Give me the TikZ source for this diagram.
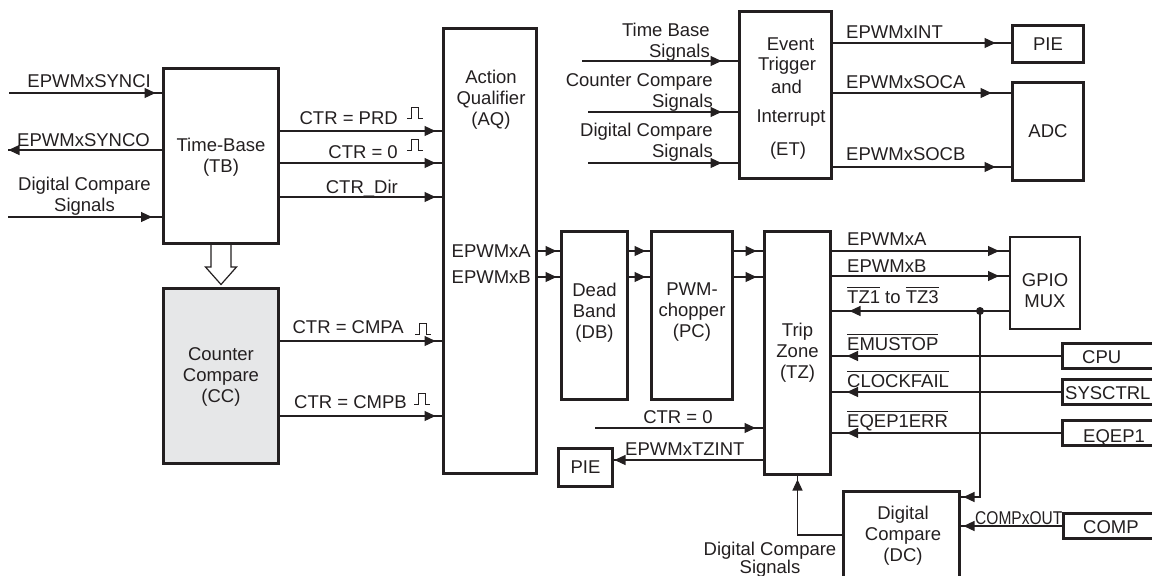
\documentclass[tikz,border=0pt]{standalone}
\usepackage{fontspec}
\setmainfont{Liberation Sans}
\usetikzlibrary{arrows.meta,decorations.markings,calc}
\definecolor{ink}{HTML}{231F20}
\definecolor{ccgray}{RGB}{230,231,232}
\newcommand\dfont{\fontsize{18.5}{21}\selectfont}
\newcommand\ovl[1]{\leavevmode\setbox0\hbox{#1}\rlap{\rule[15pt]{\wd0}{1pt}}\box0\relax}
\tikzset{
  box/.style={draw=ink, line width=3pt, inner sep=0pt, font=\dfont, text=ink},
  wire/.style={draw=ink, color=ink, line width=1.2pt},
  arr/.style={postaction={decorate}, decoration={markings, mark=at position -#1 with {\arrow{Triangle[length=11pt,width=10pt]}}}},
  arr/.default=1pt,
  lbl/.style={inner sep=0pt, font=\dfont, text=ink, align=center},
  pulse/.pic={\draw[ink, line width=0.9pt] (0,0) -- (4,0) -- (4,-11) -- (11,-11) -- (11,0) -- (16,0);},
}
\begin{document}
\begin{tikzpicture}[x=1pt,y=-1pt]
\useasboundingbox (0,0) rectangle (1152,576);
\clip (0,0) rectangle (1152,576);

% ---------- boxes ----------
\node[box, minimum width=115pt, minimum height=175pt] (tb) at (221,156) {};
\node[box, fill=ccgray, minimum width=115pt, minimum height=175pt] (cc) at (221,376) {};
\node[box, minimum width=93pt, minimum height=445pt] (aq) at (490,251) {};
\node[box, minimum width=92pt, minimum height=167pt] (et) at (785.5,95) {};
\node[box, minimum width=71pt, minimum height=37pt] (pie1) at (1048,44) {PIE};
\node[box, minimum width=71pt, minimum height=98pt] (adc) at (1048,131.5) {ADC};
\node[box, minimum width=66pt, minimum height=168pt] (db) at (594.5,315.5) {};
\node[box, minimum width=81pt, minimum height=168pt] (pc) at (692,315.5) {};
\node[box, minimum width=66pt, minimum height=243pt] (tz) at (797.5,353) {};
\node[box, line width=2pt, minimum width=70pt, minimum height=92pt] (gpio) at (1045,283) {};
\node[box, minimum width=107.5pt, minimum height=25pt] (cpu) at (1116.25,356) {};
\node[box, minimum width=107.5pt, minimum height=25pt] (sys) at (1116.25,392) {};
\node[box, minimum width=107.5pt, minimum height=25pt] (eqep) at (1116.25,433) {};
\node[box, minimum width=107.5pt, minimum height=25pt] (comp) at (1117.25,526) {};
\node[box, minimum width=54pt, minimum height=38pt] (pie2) at (585.5,467.5) {PIE};
\node[box, minimum width=116pt, minimum height=93.5pt] (dc) at (901.5,538.25) {};

% ---------- box texts ----------
\node[lbl, anchor=north] (tbt) at (221,138) {Time-Base\\(TB)};
\node[lbl, anchor=north] (cct) at (221,347) {Counter\\Compare\\(CC)};
\node[lbl, anchor=north] (aqt) at (491,70) {Action\\Qualifier\\(AQ)};
\node[lbl, anchor=north] (dbt) at (594.5,283) {Dead\\Band\\(DB)};
\node[lbl, anchor=north] (pct) at (692,283) {PWM-\\chopper\\(PC)};
\node[lbl, anchor=north] (tzt) at (797.5,323) {Trip\\Zone\\(TZ)};
\node[lbl, anchor=north] (gpiot) at (1045,273) {GPIO\\MUX};
\node[lbl, anchor=north] (dct) at (903,506) {Digital\\Compare\\(DC)};
\node[lbl, anchor=base] (et1) at (790.5,50) {Event};
\node[lbl, anchor=base] (et2) at (787,70) {Trigger};
\node[lbl, anchor=base] (et3) at (786.5,93) {and};
\node[lbl, anchor=base] (et4) at (791,122) {Interrupt};
\node[lbl, anchor=base] (et5) at (788,155) {(ET)};
\node[lbl, anchor=base west] (cput) at (1082,363) {CPU};
\node[lbl, anchor=base west] (syst) at (1065,399) {SYSCTRL};
\node[lbl, anchor=base west] (eqept) at (1083,442) {EQEP1};
\node[lbl, anchor=base west] (compt) at (1083,533) {COMP};

% ---------- hollow arrow TB -> CC ----------
\draw[ink, line width=1.2pt, fill=white]
  ($(tb.south)+(-10,0)$) -- ++(0,22) -- ++(-5.5,0) -- ($(tb.south)+(0,39.5)$)
  -- ($(tb.south)+(15.5,22)$) -- ++(-5.5,0) -- ($(tb.south)+(10,0)$);

% ---------- left inputs ----------
\coordinate (synci) at (9,93);
\coordinate (synco) at (8,150);
\coordinate (dcsin) at (8,217);
\draw[wire, arr=6.5pt] (synci) -- (tb.west |- synci);
\draw[wire, arr=0.5pt] (tb.west |- synco) -- (synco);
\draw[wire, arr=10pt] (dcsin) -- (tb.west |- dcsin);
\node[lbl, anchor=base east] (lsynci) at (151,87) {EPWMxSYNCI};
\node[lbl, anchor=base west] (lsynco) at (17,146) {EPWMxSYNCO};
\node[lbl, anchor=north] (ldcs) at (84.5,177) {Digital Compare\\Signals};

% ---------- TB/CC -> AQ ----------
\foreach \y in {131,163,197} \draw[wire, arr=6.5pt] (tb.east |- 0,\y) -- (aq.west |- 0,\y);
\foreach \y in {341,416} \draw[wire, arr=6.5pt] (cc.east |- 0,\y) -- (aq.west |- 0,\y);
\node[lbl, anchor=base east] (lprd) at (398,124) {CTR = PRD};
\node[lbl, anchor=base east] (lzero) at (398,158) {CTR = 0};
\node[lbl, anchor=base east] (ldir) at (398,193) {CTR\_Dir};
\node[lbl, anchor=base east] (lcmpa) at (404,333) {CTR = CMPA};
\node[lbl, anchor=base east] (lcmpb) at (407,408) {CTR = CMPB};
\pic at (407,118) {pulse};
\pic at (407,150) {pulse};
\pic at (415,334) {pulse};
\pic at (414,404) {pulse};

% ---------- AQ -> DB -> PC -> TZ ----------
\node[lbl, anchor=base east] (lqa) at (531,257) {EPWMxA};
\node[lbl, anchor=base east] (lqb) at (531,283) {EPWMxB};
\foreach \y in {251,277} {
  \draw[wire, arr=3.5pt] (aq.east |- 0,\y) -- (db.west |- 0,\y);
  \draw[wire, arr=4.5pt] (db.east |- 0,\y) -- (pc.west |- 0,\y);
  \draw[wire, arr=6.5pt] (pc.east |- 0,\y) -- (tz.west |- 0,\y);
}

% ---------- ET ----------
\coordinate (tbs) at (582,61);
\coordinate (ccs) at (588,112);
\coordinate (dcs) at (588,163);
\draw[wire, arr=16.5pt] (tbs) -- (et.west |- tbs);
\draw[wire, arr=16.5pt] (ccs) -- (et.west |- ccs);
\draw[wire, arr=16.5pt] (dcs) -- (et.west |- dcs);
\node[lbl, anchor=north east, align=right] (ltbs) at (710,23) {Time Base\\Signals};
\node[lbl, anchor=north east, align=right] (lccs) at (713,73) {Counter Compare\\Signals};
\node[lbl, anchor=north east, align=right] (ldcs2) at (713,123) {Digital Compare\\Signals};
\draw[wire, arr=15.5pt] (et.east |- 0,43) -- (pie1.west |- 0,43);
\draw[wire, arr=19.5pt] (et.east |- 0,93) -- (adc.west |- 0,93);
\draw[wire, arr=15.5pt] (et.east |- 0,167) -- (adc.west |- 0,167);
\node[lbl, anchor=base west] (lint) at (846,38) {EPWMxINT};
\node[lbl, anchor=base west] (lsoca) at (846,88) {EPWMxSOCA};
\node[lbl, anchor=base west] (lsocb) at (846,160) {EPWMxSOCB};

% ---------- TZ right side ----------
\draw[wire, arr=10pt] (tz.east |- 0,251) -- (gpio.west |- 0,251);
\draw[wire, arr=10pt] (tz.east |- 0,276) -- (gpio.west |- 0,276);
\node[circle, fill=ink, inner sep=0pt, minimum size=8pt] (dot) at (980,311) {};
\draw[wire, arr=17.5pt] (gpio.west |- dot) -- (tz.east |- dot);
\draw[wire, arr=15pt] (cpu.west) -- (tz.east |- cpu.west);
\draw[wire, arr=15pt] (sys.west) -- (tz.east |- sys.west);
\draw[wire, arr=15pt] (eqep.west) -- (tz.east |- eqep.west);
\draw[wire, arr=2.5pt] (dot.center) |- (dc.east |- 0,497);
\node[lbl, anchor=base west] (lta) at (847,245) {EPWMxA};
\node[lbl, anchor=base west] (ltb) at (847,272) {EPWMxB};
\node[lbl, anchor=base west] (ltz) at (847,303) {\ovl{TZ1} to \ovl{TZ3}};
\node[lbl, anchor=base west] (lemu) at (847,350) {\ovl{EMUSTOP}};
\node[lbl, anchor=base west] (lclk) at (847,387) {\ovl{CLOCKFAIL}};
\node[lbl, anchor=base west] (leqe) at (847,427) {\ovl{EQEP1ERR}};

% ---------- bottom ----------
\coordinate (ctrz) at (595,428);
\draw[wire, arr=7.5pt] (ctrz) -- (tz.west |- ctrz);
\node[lbl, anchor=base] (lctrz) at (678,423) {CTR = 0};
\draw[wire, arr=0.5pt] (tz.west |- 0,460) -- (pie2.east |- 0,460);
\node[lbl, anchor=base west] (ltzint) at (625,455) {EPWMxTZINT};
\draw[wire, arr=3.5pt] (dc.west |- 0,535) -| (tz.south);
\node[lbl, anchor=north, font={\fontsize{18.5}{15.5}\selectfont}] (ldcs3) at (770,541.5) {Digital Compare\\Signals};
\draw[wire, arr=2.5pt] (comp.west) -- (dc.east |- comp.west);
\node[lbl, anchor=base west] (lcompx) at (975,524) {\scalebox{0.84}[1]{COMPxOUT}};
\end{tikzpicture}
\end{document}
